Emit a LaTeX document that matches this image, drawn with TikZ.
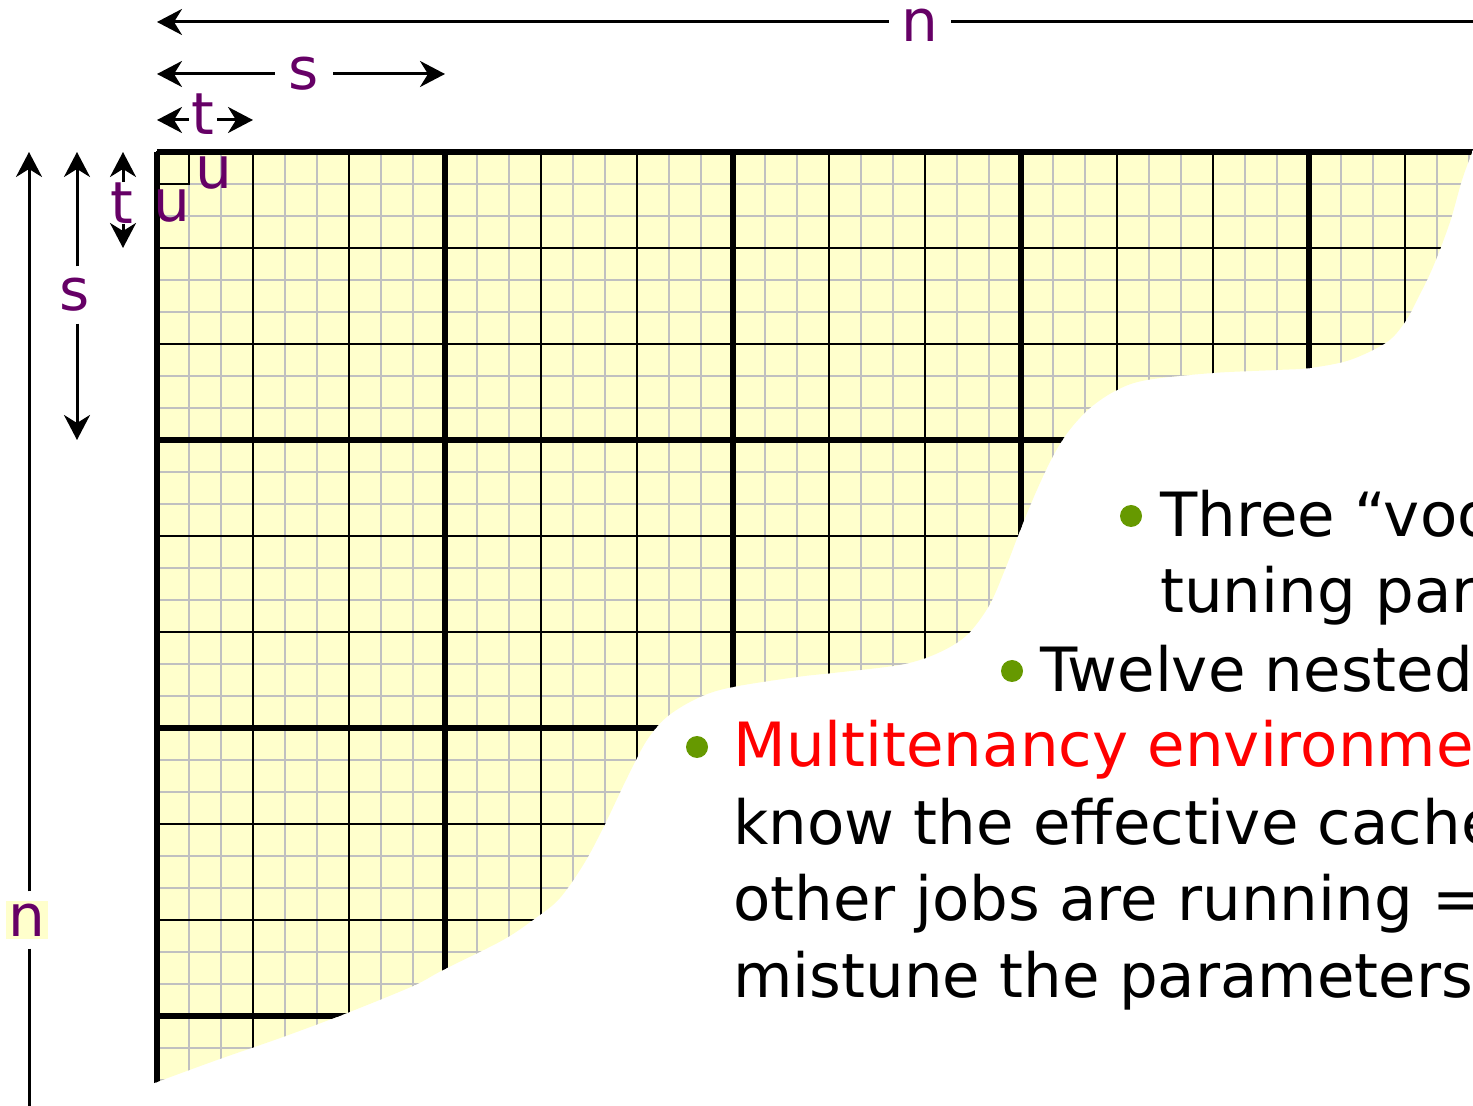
\documentclass[tikz,border=0pt]{standalone}
\usepackage{fontspec}
\setmainfont{DejaVu Sans}
\usetikzlibrary{arrows.meta}
\definecolor{gridyellow}{HTML}{FFFFCC}
\definecolor{gridgrey}{HTML}{C0C0C0}
\definecolor{lblpurple}{HTML}{660066}
\definecolor{bulletgreen}{HTML}{669900}
\definecolor{alertred}{HTML}{FF0000}
\begin{document}
\begin{tikzpicture}[x=0.5pt,y=-0.5pt,
  dimline/.style={line width=1.5pt},
  dim/.style={dimline, -{Stealth[length=12.5pt,width=13pt,inset=4pt]}},
  lbl/.style={text=lblpurple, font=\fontsize{29}{29}\selectfont, inner sep=0pt},
  body/.style={anchor=base west, font=\fontsize{30.5}{36}\selectfont, inner sep=0pt},
  bulletdot/.style={circle, fill=bulletgreen, minimum size=11pt, inner sep=0pt},
  fineline/.style={gridgrey, line width=0.7pt},
  midline/.style={black, line width=1pt},
  heavyline/.style={black, line width=2.6pt}]

\useasboundingbox (0,0) rectangle (1473,1106);

% ---------- grid, clipped to the torn region ----------
\begin{scope}
  \clip (145,140) -- (1480,140) -- (1480,150) --
    plot[smooth, tension=0.55] coordinates {
      (1473,150) (1462,180) (1450,222) (1433,267) (1417,300) (1405,322)
      (1387,342) (1350,360) (1310,368) (1277,370) (1213,373) (1147,380)
      (1117,390) (1090,408) (1068,432) (1052,458) (1036,492) (1021,528)
      (1006,567) (990,604) (970,632) (950,647) (923,659) (893,666)
      (833,673) (797,677) (733,687) (700,697) (668,716) (647,740)
      (627,778) (606,822) (585,862) (560,898) (537,917) (503,940)
      (443,970) (413,986) (347,1013) (283,1037) (217,1060) (157,1082)}
    -- (145,1086) -- cycle;
  \fill[gridyellow] (157,152) rectangle (1480,1110);
  \foreach \i in {0,...,41} \draw[fineline] ({157+32*\i},152) -- ({157+32*\i},1110);
  \foreach \j in {0,...,30} \draw[fineline] (157,{152+32*\j}) -- (1480,{152+32*\j});
  \foreach \i in {0,...,13} \draw[midline] ({157+96*\i},152) -- ({157+96*\i},1110);
  \foreach \j in {0,...,10} \draw[midline] (157,{152+96*\j}) -- (1480,{152+96*\j});
  \foreach \i in {0,...,4} \draw[heavyline] ({157+288*\i},152) -- ({157+288*\i},1110);
  \foreach \j in {0,...,3} \draw[heavyline] (157,{152+288*\j}) -- (1480,{152+288*\j});
\end{scope}
\draw[midline] (157,152) rectangle (189,184);

% ---------- horizontal dimension arrows ----------
\coordinate (nTL) at (157,22);
\coordinate (nTR) at (1480,22);
\node[lbl, outer xsep=6.5pt] (nTop) at (920,25) {n};
\draw[dim] (nTop.west |- nTL) -- (nTL);
\draw[dimline] (nTop.east |- nTR) -- (nTR);

\coordinate (sTL) at (157,74);
\coordinate (sTR) at (445,74);
\node[lbl, outer xsep=7pt] (sTop) at (304,74) {s};
\draw[dim] (sTop) -- (sTL);
\draw[dim] (sTop) -- (sTR);

\coordinate (tTL) at (157,120);
\coordinate (tTR) at (253,120);
\node[lbl, outer xsep=1.5pt] (tTop) at (203,114) {t};
\draw[dim] (tTop.west |- tTL) -- (tTL);
\draw[dim] (tTop.east |- tTR) -- (tTR);

% ---------- vertical dimension arrows ----------
\coordinate (nLT) at (29,152);
\coordinate (nLB) at (29,1115);
\node[lbl, fill=gridyellow, inner sep=1.2pt, outer ysep=5pt] (nLeft) at (27,920) {n};
\draw[dim] (nLeft.north -| nLT) -- (nLT);
\draw[dimline] (nLeft.south -| nLB) -- (nLB);

\coordinate (sLT) at (77,152);
\coordinate (sLB) at (77,440);
\node[lbl, outer ysep=6pt] (sLeft) at (75,295) {s};
\draw[dim] (sLeft.north -| sLT) -- (sLT);
\draw[dim] (sLeft.south -| sLB) -- (sLB);

\coordinate (tLT) at (123,152);
\coordinate (tLB) at (123,248);
\node[lbl] (tLeft) at (122,203) {t};
\draw[dim] (tLeft.north -| tLT) -- (tLT);
\draw[dim] (tLeft.south -| tLB) -- (tLB);

% ---------- u labels ----------
\node[lbl] (uA) at (214,173) {u};
\node[lbl] (uB) at (172,206) {u};

% ---------- bullet text ----------
\node[bulletdot] (b1) at (1131,516) {};
\node[body] (l1) at (1160,537) {Three “voo};
\node[body] (l2) at (1160,613) {tuning par};
\node[bulletdot] (b2) at (1012,671) {};
\node[body] (l3) at (1040,691) {Twelve nested};
\node[bulletdot] (b3) at (697,747) {};
\node[body, text=alertred] (l4) at (733,767) {Multitenancy environme};
\node[body] (l5) at (733,844) {know the effective cache};
\node[body] (l6) at (733,920) {other jobs are running =};
\node[body] (l7) at (733,997) {mistune the parameters};
\end{tikzpicture}
\end{document}
